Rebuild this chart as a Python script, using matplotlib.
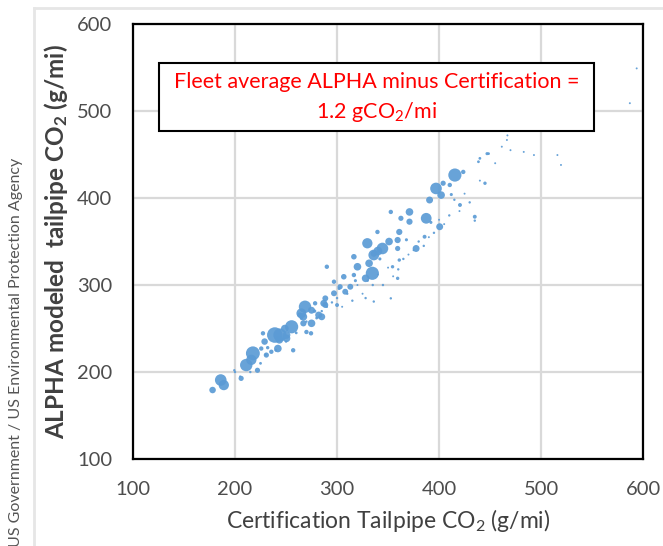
"""Recreate ALPHA vs certification tailpipe CO2 bubble chart."""

import matplotlib
matplotlib.use("Agg")
import matplotlib.pyplot as plt
from matplotlib.patches import Rectangle

plt.rcParams["font.family"] = ["Lato", "DejaVu Sans"]
plt.rcParams["mathtext.fontset"] = "custom"
plt.rcParams["mathtext.rm"] = "Lato"
plt.rcParams["mathtext.bf"] = "Lato:bold"

# bubbles (10 per row): certification CO2, ALPHA CO2, marker area
cert_co2 = [
    178, 186, 189, 206, 211, 217.5, 216, 222, 229, 239,
    243.5, 250.5, 255.5, 242, 257, 263.6, 268.6, 275, 274.5, 270,
    282, 287, 288.5, 290, 297, 300, 306.6, 308, 313, 316.5,
    320, 329.7, 331.4, 334.6, 328, 336, 344.5, 351, 359.4, 361,
    354.4, 361, 359.4, 362.6, 371, 371, 352.7, 377.5, 385.8, 387.4,
    390.7, 397, 402, 404, 400.6, 410.5, 415.5, 423.7, 420.5, 435,
    445, 448.5, 438.6, 435, 447, 440, 461.5, 466.5, 467, 483,
    493, 516, 519.5, 593.7, 587,
    # extra bubbles in the dense band
    244, 235.6, 250.5, 248.8, 265, 267, 225.7, 230.7, 227.4, 199.3,
    267, 275, 278.5, 288.5, 285, 297, 303, 316.5, 336, 340,
    336, 352.7, 328, 339.6, 359.4,
    # small scattered dots
    310, 320, 330, 340, 345, 355, 365, 375, 380, 390,
    395, 405, 410, 420, 430, 300, 305, 315, 325, 335,
    350, 360, 370, 385, 400, 415, 425, 440, 455, 470,
    200, 205, 215, 225, 230, 240, 250, 260, 270, 280,
    285, 290, 295, 232, 248, 265, 278, 302, 318, 342,
    368, 392, 412,
]
alpha_co2 = [
    179.3, 190.8, 185, 192.7, 208, 221.5, 214, 202, 235, 242.5,
    237, 242.5, 252, 227, 225, 265.5, 275, 256, 244.5, 246,
    265.5, 279, 284.7, 321, 290.5, 277, 309.5, 292.3, 298, 332.5,
    321, 348, 325, 313.5, 307.7, 336, 342, 350, 351.7, 361,
    321, 328.7, 307.7, 376.7, 384, 372.8, 384, 342, 355.5, 376.7,
    397.7, 411, 403.4, 417, 367, 415, 426.4, 430, 392, 378.5,
    417, 451, 441.7, 374, 451, 445.6, 459, 466.7, 472, 453,
    449.4, 449.4, 438, 549, 509,
    # extra bubbles in the dense band
    242.5, 223.3, 238.7, 250, 267.5, 256, 227, 219.5, 244.5, 202,
    263.5, 271, 279, 277, 263.5, 303.8, 298, 311.5, 334.5, 339,
    281, 284.7, 285, 361, 342,
    # small scattered dots
    290, 300, 305, 312, 300, 310, 330, 340, 350, 355,
    360, 370, 380, 385, 395, 285, 275, 282, 290, 300,
    320, 318, 335, 345, 375, 398, 405, 420, 440, 455,
    200, 195, 200, 210, 220, 225, 235, 245, 258, 262,
    270, 275, 280, 228, 240, 262, 270, 296, 305, 330,
    352, 372, 404,
]
bubble_area = [
    22, 70, 55, 14, 80, 100, 55, 14, 22, 125,
    30, 30, 90, 30, 10, 14, 80, 30, 10, 10,
    25, 25, 18, 10, 18, 8, 16, 18, 18, 16,
    30, 55, 30, 90, 30, 20, 70, 30, 20, 20,
    6, 6, 6, 14, 30, 20, 10, 25, 8, 60,
    25, 70, 30, 14, 25, 10, 90, 10, 8, 8,
    6, 4, 4, 3, 5, 4, 2, 2, 2, 2,
    2, 2, 2, 2, 2,
    # extra bubbles in the dense band
    90, 10, 30, 30, 50, 20, 10, 14, 10, 3,
    30, 25, 10, 18, 25, 10, 14, 10, 60, 40,
    3, 3, 3, 10, 14,
    # small scattered dots
    3, 2, 3, 2, 3, 2, 3, 2, 3, 2,
    3, 2, 3, 2, 3, 3, 2, 3, 2, 3,
    2, 3, 2, 3, 2, 3, 2, 2, 2, 2,
    3, 2, 3, 4, 3, 4, 3, 4, 3, 4,
    3, 3, 3, 6, 6, 6, 6, 5, 5, 5,
    5, 5, 5,
]

BLUE = "#5B9BD5"

fig = plt.figure(figsize=(6.63, 5.46), dpi=100)
ax = fig.add_axes([0.2006, 0.1593, 0.7694, 0.7967])

ax.scatter(cert_co2, alpha_co2, s=bubble_area, color=BLUE, alpha=0.92,
           linewidths=0, zorder=3)

ax.set_xlim(100, 600)
ax.set_ylim(100, 600)
ax.set_xticks(range(100, 601, 100))
ax.set_yticks(range(100, 601, 100))
ax.grid(True, color="#D9D9D9", linewidth=1.6, zorder=0)
ax.set_axisbelow(True)
ax.tick_params(length=0, labelsize=14.5, labelcolor="#4D4D4D")
ax.tick_params(axis="x", pad=16)
ax.tick_params(axis="y", pad=15)
for sp in ax.spines.values():
    sp.set_linewidth(1.6)
    sp.set_color("black")

ax.set_xlabel(r"Certification Tailpipe CO$\mathregular{_2}$ (g/mi)",
              fontsize=16.5, color="#404040", labelpad=6)
ax.set_ylabel(r"ALPHA modeled  tailpipe CO$\mathbf{_2}$ (g/mi)",
              fontsize=17.5, fontweight="bold", color="#404040", labelpad=5)

# annotation box
ax.add_patch(Rectangle((0.051, 0.754), 0.853, 0.156, transform=ax.transAxes,
                       facecolor="white", edgecolor="black", linewidth=1.5,
                       zorder=4))
ax.text(0.4775, 0.866, "Fleet average ALPHA minus Certification =",
        transform=ax.transAxes, ha="center", va="center", color="#FF0000",
        fontsize=15.5, zorder=5)
ax.text(0.4775, 0.798, r"1.2 gCO$\mathregular{_2}$/mi",
        transform=ax.transAxes, ha="center", va="center", color="#FF0000",
        fontsize=15.5, zorder=5)

# image credit along left edge
fig.text(0.024, 0.355, "US Government / US Environmental Protection Agency",
         rotation=90, ha="center", va="center", fontsize=11.5, color="#555555")

# faint frame shadow of the original screenshot
fig.add_artist(plt.Line2D([0.052, 0.052], [0, 0.985], transform=fig.transFigure,
                          color="#E6E6E6", linewidth=2))
fig.add_artist(plt.Line2D([0.052, 1], [0.985, 0.985], transform=fig.transFigure,
                          color="#E6E6E6", linewidth=2))

fig.savefig("out.png", dpi=100)
